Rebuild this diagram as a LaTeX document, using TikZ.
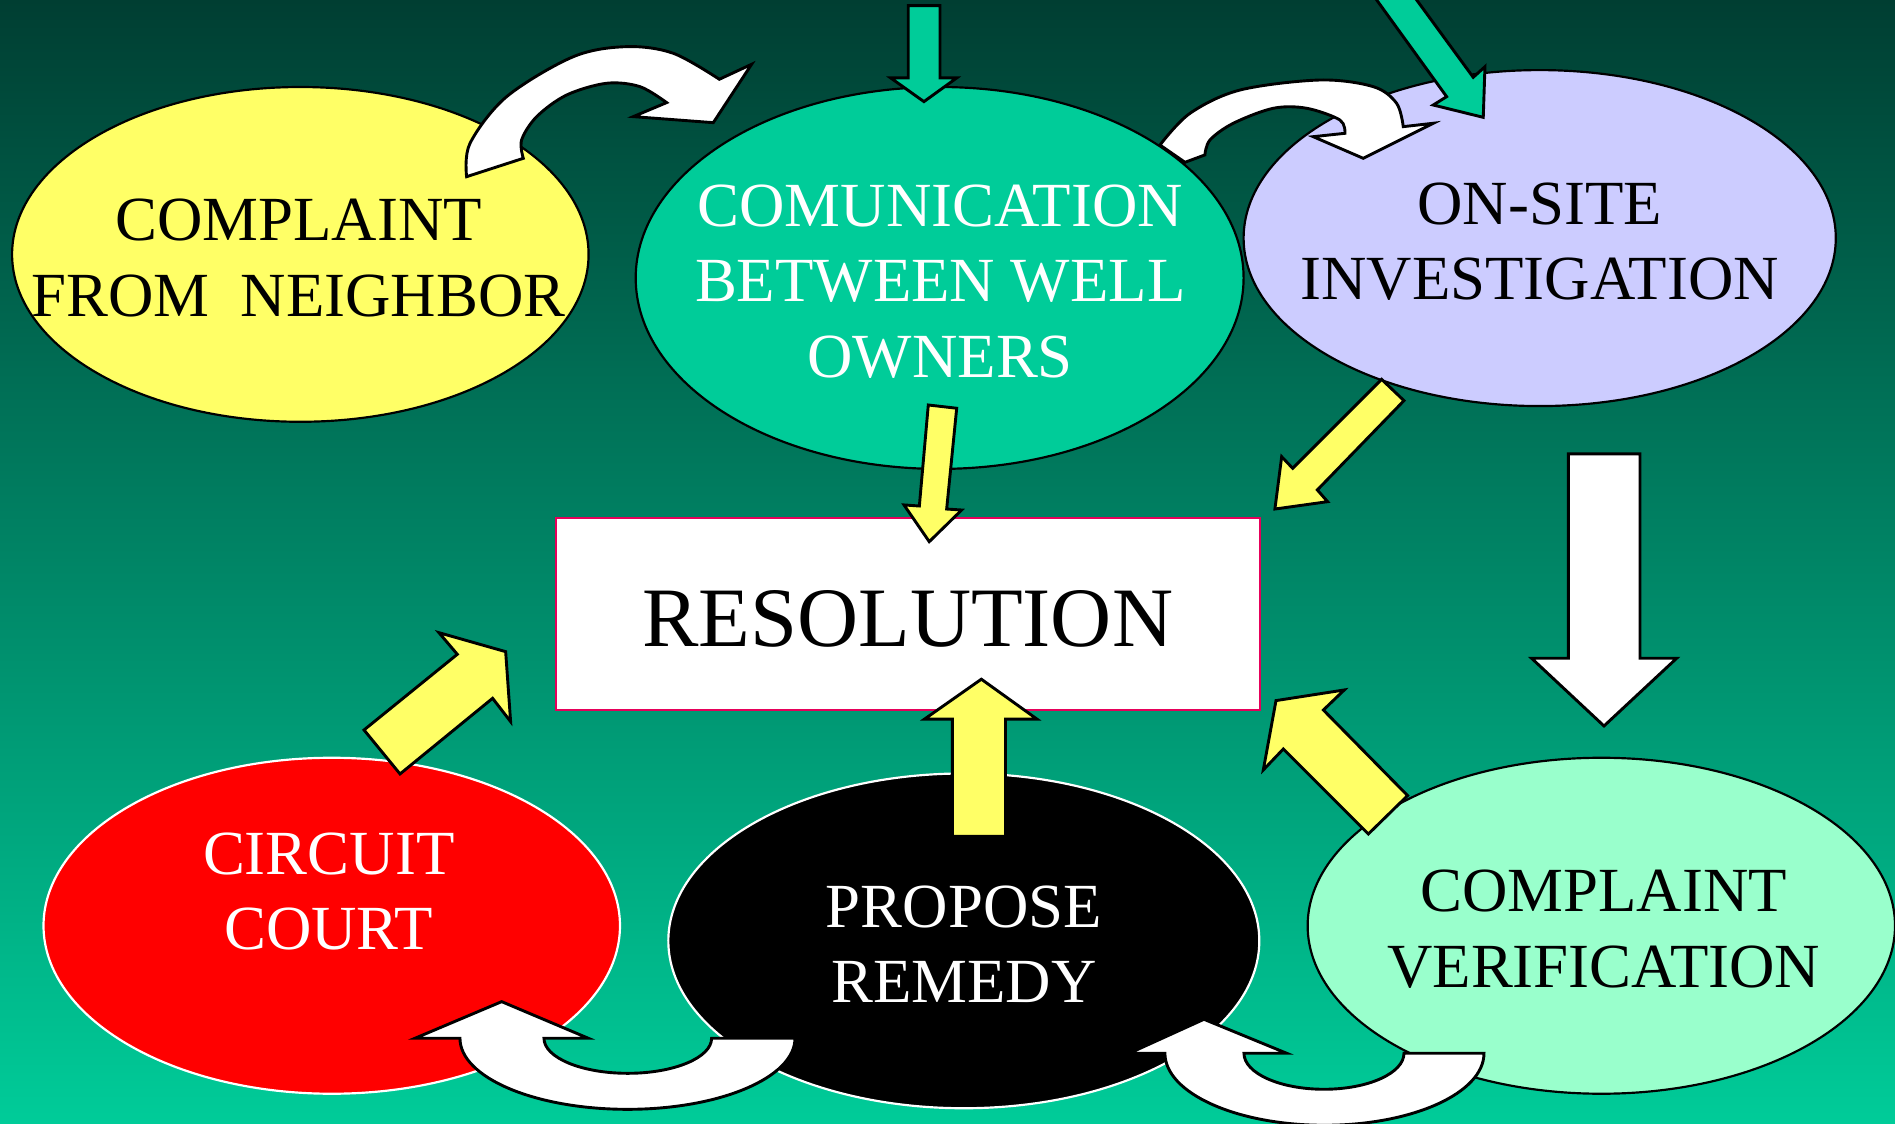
\documentclass[tikz,border=0pt]{standalone}
\usepackage{fontspec}
\setmainfont{Liberation Serif}
\usetikzlibrary{shapes.geometric}
\definecolor{bgtop}{RGB}{0,62,50}
\definecolor{bgmid}{RGB}{0,142,108}
\definecolor{bgbot}{RGB}{0,204,153}
\definecolor{cyellow}{RGB}{255,255,102}
\definecolor{cteal}{RGB}{0,204,153}
\definecolor{clav}{RGB}{204,204,255}
\definecolor{cmint}{RGB}{153,255,204}
\definecolor{cborder}{RGB}{230,0,90}
\begin{document}
\begin{tikzpicture}[x=0.5pt,y=-0.5pt,
  ell/.style={ellipse, draw, line width=0.9pt, inner sep=0pt, outer sep=0pt},
  lbl/.style={align=center, inner sep=0pt, font=\fontsize{26}{31.25}\selectfont},
  blockarrow/.style={draw=black, line width=1.2pt, line join=miter},
  warrow/.style={blockarrow, fill=white},
  yarrow/.style={blockarrow, fill=cyellow},
  tarrow/.style={blockarrow, fill=cteal}]
\useasboundingbox (0,0) rectangle (1568,930);
\clip (0,0) rectangle (1568,930);
\shade[top color=bgtop, middle color=bgmid, bottom color=bgbot] (0,0) rectangle (1568,930);

% ellipses
\node[ell, fill=cyellow, draw=black, minimum width=238.5pt, minimum height=138.5pt] (yel) at (248.5,210.5) {};
\node[ell, fill=cteal, draw=black, minimum width=251.5pt, minimum height=158pt] (com) at (777.5,230) {};
\node[ell, fill=clav, draw=black, minimum width=245pt, minimum height=139pt] (ons) at (1274,197) {};
\node[ell, fill=red, draw=white, minimum width=238.5pt, minimum height=139pt] (cir) at (274.5,766) {};
\node[ell, fill=black, draw=white, minimum width=244.5pt, minimum height=138.5pt] (pro) at (797.5,778.5) {};
\node[ell, fill=cmint, draw=black, minimum width=243pt, minimum height=139pt] (ver) at (1325,766) {};

% texts
\node[lbl, text=black] (yelT) at (247,213.5) {COMPLAINT\\FROM~~NEIGHBOR};
\node[lbl, text=white] (comT) at (778,233) {COMUNICATION\\BETWEEN WELL\\OWNERS};
\node[lbl, text=black] (onsT) at (1274,200) {ON-SITE\\INVESTIGATION};
\node[lbl, text=white] (cirT) at (272,737.5) {CIRCUIT\\COURT};
\node[lbl, text=white] (proT) at (797.5,781.5) {PROPOSE\\REMEDY};
\node[lbl, text=black] (verT) at (1327,769) {COMPLAINT\\VERIFICATION};

% resolution box
\node[draw=cborder, fill=white, line width=0.8pt, inner sep=0pt,
      minimum width=291.3pt, minimum height=79.3pt, text height=26.8pt, text depth=0pt,
      font=\fontsize{35}{42}\selectfont] (res) at (751,508.2) {RESOLUTION};

% top arrows
\filldraw[tarrow] (751.5,4.7) -- (777.8,4.7) -- (777.8,64.5) -- (791.6,64.5) -- (764.5,84.1) -- (737,64.5) -- (751.5,64.5) -- cycle;
\filldraw[tarrow] (1131.9,-10) -- (1197,80) -- (1185.9,86.9) -- (1227.3,97.1) -- (1228.7,55.2) -- (1219,64) -- (1164.9,-10) -- cycle;

% curved white arrows (top)
\filldraw[warrow] plot[smooth, tension=0.55] coordinates {(386.1,146.2) (388.9,118.6) (419.2,80) (474.4,46.9) (518.5,38.6) (557.1,44.1) (595.2,65.6)}
  -- (621.9,53.2) -- (590.2,101.5) -- (524,96.5) -- (551.6,84.9)
  -- plot[smooth, tension=0.55] coordinates {(551.6,84.9) (529.5,71.7) (502,68.9) (468.9,78.6) (444.1,96.5) (431.6,115.8) (433,131)} -- cycle;
\filldraw[warrow] plot[smooth, tension=0.55] coordinates {(959.8,120) (984.6,93.8) (1026,74.5) (1092.2,66.2) (1136.3,71.7) (1155.6,85.5) (1161.1,104.8)}
  -- (1185.9,102) -- (1128,131) -- (1086.6,113.1) -- (1112.9,110.3)
  -- plot[smooth, tension=0.55] coordinates {(1112.9,110.3) (1108.7,99.3) (1081.2,89.6) (1053.6,89.6) (1020.5,102) (1001.2,115.8) (997,128.2)}
  -- (980.5,134.3) -- cycle;

% yellow arrows to resolution
\filldraw[yarrow] (768.1,335.1) -- (791.6,337.8) -- (783.3,421.2) -- (795.7,422) -- (768.9,448.2) -- (748,417.8) -- (760.7,418.7) -- cycle;
\filldraw[yarrow] (1143.2,313.9) -- (1161.7,331.5) -- (1090,405.4) -- (1098.5,415.1) -- (1054.9,421.2) -- (1060.5,377.9) -- (1069.6,387.5) -- cycle;
\filldraw[yarrow] (301.2,604) -- (331,640.4) -- (407.6,577.8) -- (422.5,597.1) -- (418.4,539.2) -- (363.2,523.5) -- (378.4,541.4) -- cycle;
\filldraw[yarrow] (788,692) -- (788,595) -- (765,595) -- (812,562) -- (858,595) -- (832,595) -- (832,692) -- cycle;
\filldraw[yarrow] (1132.2,690.1) -- (1164.7,658.3) -- (1095,587.5) -- (1112.3,570.9) -- (1055.8,579.7) -- (1045.3,637.1) -- (1061.9,619.7) -- cycle;

% white down arrow
\filldraw[warrow] (1297.7,375.6) -- (1357,375.6) -- (1357,544.7) -- (1387.3,544.7) -- (1327.2,600.7) -- (1267.3,544.7) -- (1297.7,544.7) -- cycle;

% bottom U arrows
\filldraw[warrow] (343.4,859.1) -- (415.1,828.8) -- (486.8,859.1) -- (450.1,859.1)
  arc[start angle=180, end angle=0, x radius=69.35, y radius=29]
  -- (657.8,859.1) arc[start angle=0, end angle=180, x radius=138.6, y radius=58.8] -- cycle;
\filldraw[warrow] (934.4,871.5) -- (996.2,843.4) -- (1064.6,871.5) -- (1029.3,871.5)
  arc[start angle=180, end angle=0, x radius=66.2, y radius=29.8]
  -- (1227.9,871.5) arc[start angle=0, end angle=180, x radius=132, y radius=59.6] -- cycle;
\end{tikzpicture}
\end{document}
